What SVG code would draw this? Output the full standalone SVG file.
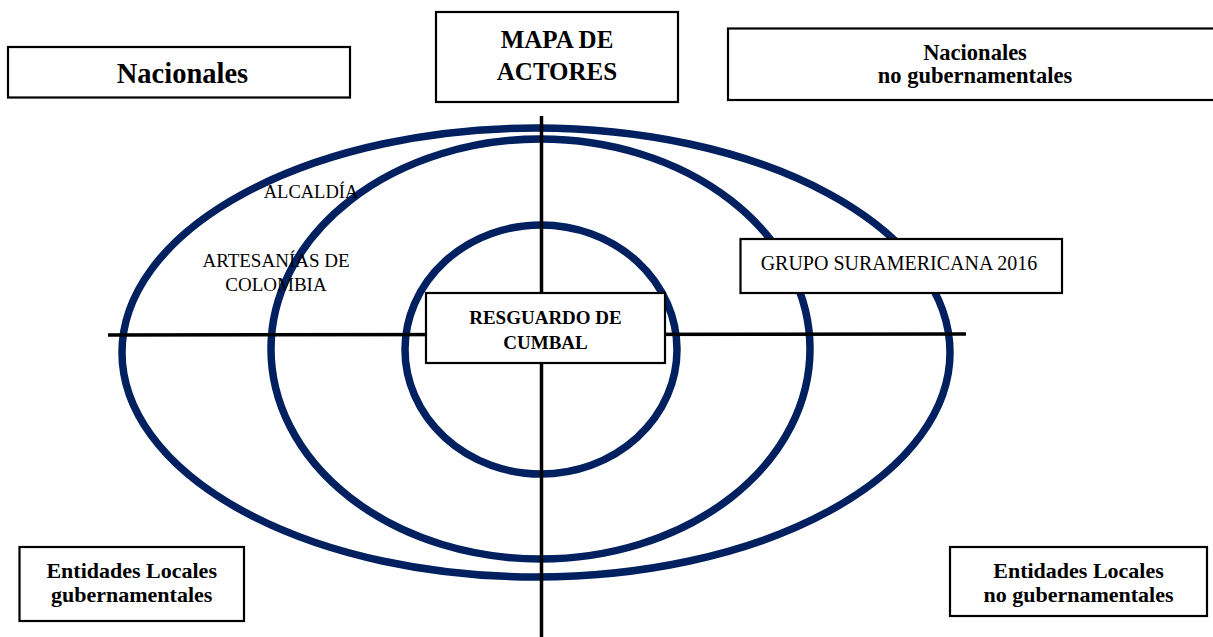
<svg xmlns="http://www.w3.org/2000/svg" width="1213" height="637" viewBox="0 0 1213 637">
<style>
.bg{fill:#ffffff}
.ring{fill:none;stroke:#002060;stroke-width:7.5}
.axis{stroke:#000;stroke-width:3.5;fill:none}
.box{fill:#ffffff;stroke:#000;stroke-width:2.2}
.b{font-family:"Liberation Serif","Times New Roman",serif;font-weight:bold;fill:#000;text-anchor:middle}
.r{font-family:"Liberation Serif","Times New Roman",serif;fill:#000;text-anchor:middle}
</style>
<rect class="bg" x="0" y="0" width="1213" height="637"/>
<g id="rings">
<ellipse class="ring" cx="536" cy="352.5" rx="414" ry="224.5"/>
<ellipse class="ring" cx="540.5" cy="349" rx="269.5" ry="210"/>
<ellipse class="ring" cx="541" cy="349.5" rx="136" ry="124.5"/>
</g>
<g id="connectors">
<line class="axis" x1="541.5" y1="116" x2="541.5" y2="637"/>
<line class="axis" x1="108" y1="335" x2="966" y2="334"/>
</g>
<g id="labels">
<text class="r" x="311" y="198" font-size="18.5">ALCALDÍA</text>
<text class="r" x="276" y="267" font-size="19">ARTESANÍAS DE</text>
<text class="r" x="276" y="291" font-size="19">COLOMBIA</text>
</g>
<g id="nacionales">
<rect class="box" x="8" y="47" width="342" height="50.5"/>
<text class="b" x="182.5" y="83" font-size="28.5">Nacionales</text>
</g>
<g id="mapa-actores">
<rect class="box" x="436" y="12" width="242" height="90"/>
<text class="b" x="557" y="48" font-size="25">MAPA DE</text>
<text class="b" x="557" y="80" font-size="25">ACTORES</text>
</g>
<g id="nacionales-no-gub">
<rect class="box" x="728" y="28.5" width="490" height="71.5"/>
<text class="b" x="975" y="60" font-size="22.5">Nacionales</text>
<text class="b" x="975" y="83" font-size="22.5">no gubernamentales</text>
</g>
<g id="grupo-suramericana">
<rect class="box" x="740.5" y="239" width="321.5" height="54"/>
<text class="r" x="899" y="270" font-size="20">GRUPO SURAMERICANA 2016</text>
</g>
<g id="resguardo">
<rect class="box" x="426" y="293" width="239" height="70"/>
<text class="b" x="545.5" y="324" font-size="19">RESGUARDO DE</text>
<text class="b" x="545.5" y="349" font-size="19">CUMBAL</text>
</g>
<g id="entidades-gub">
<rect class="box" x="19.5" y="547" width="224.5" height="74"/>
<text class="b" x="131.7" y="577.7" font-size="22">Entidades Locales</text>
<text class="b" x="131.7" y="601.7" font-size="22">gubernamentales</text>
</g>
<g id="entidades-no-gub">
<rect class="box" x="950" y="547" width="257" height="69"/>
<text class="b" x="1078.5" y="577.7" font-size="22">Entidades Locales</text>
<text class="b" x="1078.5" y="601.7" font-size="22">no gubernamentales</text>
</g>
</svg>
